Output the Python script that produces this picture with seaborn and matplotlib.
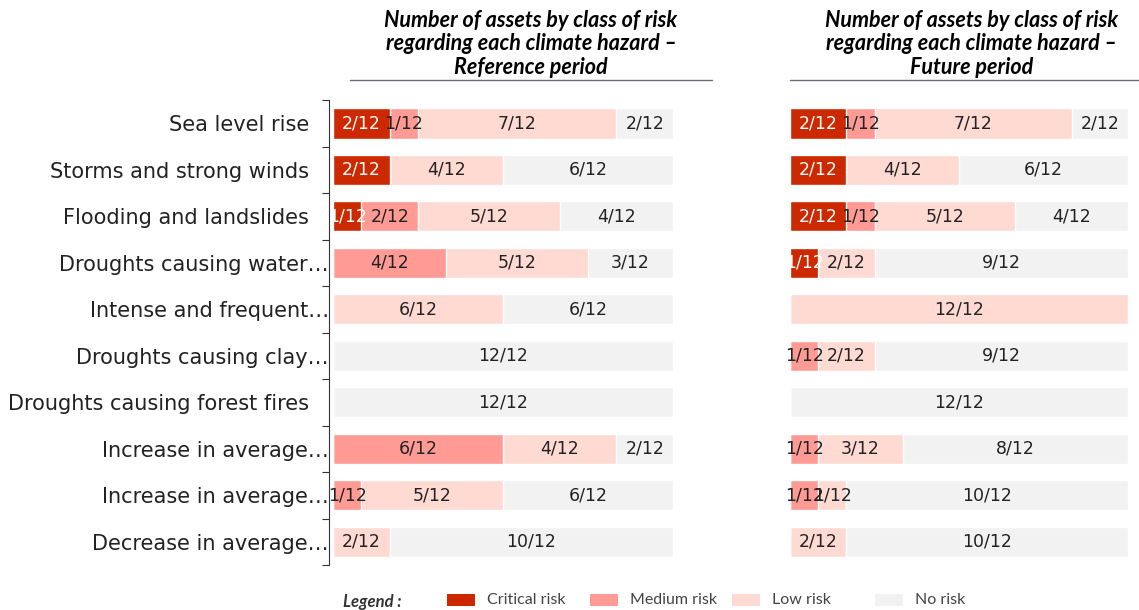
import numpy as np
import matplotlib.pyplot as plt
import seaborn as sns
from matplotlib.patches import Rectangle
from matplotlib.lines import Line2D

sns.set_theme(style="white")
plt.rcParams['font.family'] = ['DejaVu Sans']

# -------------------------------
# Data (number of assets out of 12)
# -------------------------------
hazards = ["Sea level rise", "Storms and strong winds", "Flooding and landslides",
           "Droughts causing water…", "Intense and frequent…", "Droughts causing clay…",
           "Droughts causing forest fires", "Increase in average…", "Increase in average…",
           "Decrease in average…"]
# duplicate labels would merge as categories, so keep an index for plotting
hazard_ids = [f"h{i}" for i in range(len(hazards))]

ref_critical = [2, 2, 1, 0, 0, 0, 0, 0, 0, 0]
ref_medium = [1, 0, 2, 4, 0, 0, 0, 6, 1, 0]
ref_low = [7, 4, 5, 5, 6, 0, 0, 4, 5, 2]
ref_none = [2, 6, 4, 3, 6, 12, 12, 2, 6, 10]

fut_critical = [2, 2, 2, 1, 0, 0, 0, 0, 0, 0]
fut_medium = [1, 0, 1, 0, 0, 1, 0, 1, 1, 0]
fut_low = [7, 4, 5, 2, 12, 2, 0, 3, 1, 2]
fut_none = [2, 6, 4, 9, 0, 9, 12, 8, 10, 10]

total = 12
risk_names = ["Critical risk", "Medium risk", "Low risk", "No risk"]
risk_colors = ["#CC2900", "#FF9A94", "#FFDAD3", "#F2F2F2"]
text_colors = ["white", "#222222", "#222222", "#222222"]


def stacked(ax, layers):
    # draw cumulative bars back to front so each layer shows as a segment
    cums = np.cumsum(np.array(layers), axis=0)
    for k in range(len(layers) - 1, -1, -1):
        sns.barplot(x=cums[k], y=hazard_ids, orient="h", order=hazard_ids,
                    color=risk_colors[k], saturation=1, width=0.65, ax=ax)
    for k, layer in enumerate(layers):
        for i, v in enumerate(layer):
            if v > 0:
                left = cums[k][i] - v
                ax.text(left + v / 2, i, f"{v}/{total}", ha="center", va="center",
                        fontsize=12.5, color=text_colors[k])
    ax.set_xlim(0, total)
    ax.set_ylim(len(hazards) - 0.5, -0.5)
    ax.set_xlabel("")
    ax.set_ylabel("")
    ax.set_xticks([])
    for s in ["top", "right", "bottom"]:
        ax.spines[s].set_visible(False)


fig = plt.figure(figsize=(11.39, 6.10), dpi=100)
ax1 = fig.add_axes([0.2924, 0.0738, 0.2985, 0.762])
ax2 = fig.add_axes([0.6936, 0.0738, 0.2968, 0.762])

stacked(ax1, [ref_critical, ref_medium, ref_low, ref_none])
stacked(ax2, [fut_critical, fut_medium, fut_low, fut_none])

# left axis: labels and boundary ticks (ellipsis hangs past the other labels)
shown = [h if h.endswith("…") else h + "   " for h in hazards]
ax1.set_yticks(range(len(hazards)))
ax1.set_yticklabels(shown)
ax1.set_yticks(np.arange(-0.5, len(hazards), 1), minor=True)
ax1.tick_params(axis="y", which="major", left=False, length=0, pad=0,
                labelsize=15, labelcolor="#222222")
ax1.tick_params(axis="y", which="minor", left=True, length=5, width=0.8,
                direction="out", color="#333333")
ax1.spines["left"].set_position(("outward", 3))
ax1.spines["left"].set_color("#333333")
ax1.spines["left"].set_linewidth(0.8)

ax2.set_yticks([])
ax2.spines["left"].set_visible(False)

# titles with underline
title_kw = dict(ha="center", va="center", fontsize=15.5, fontweight="bold",
                fontstyle="italic", color="black", linespacing=1.17,
                family=["Lato", "DejaVu Sans"])
fig.text(531 / 1139, 1 - 44 / 610,
         "Number of assets by class of risk\nregarding each climate hazard –\nReference period",
         **title_kw)
fig.text(972 / 1139, 1 - 44 / 610,
         "Number of assets by class of risk\nregarding each climate hazard –\nFuture period",
         **title_kw)
ly = 1 - 79.5 / 610
fig.add_artist(Line2D([350 / 1139, 712 / 1139], [ly, ly], color="#6b6e78", lw=1))
fig.add_artist(Line2D([790 / 1139, 1.0], [ly, ly], color="#6b6e78", lw=1))

# legend row
fig.text(343 / 1139, 1 - 602 / 610, "Legend :", fontsize=12, fontweight="bold",
         fontstyle="italic", color="#333333", va="center", family=["Lato", "DejaVu Sans"])
for k, name in enumerate(risk_names):
    x0 = (447 + k * 142.7) / 1139
    fig.add_artist(Rectangle((x0, 1 - 606 / 610), 28 / 1139, 12 / 610,
                             transform=fig.transFigure, facecolor=risk_colors[k],
                             edgecolor="none"))
    fig.text(x0 + 40 / 1139, 1 - 600 / 610, name, fontsize=11.5, color="#444444",
             va="center", family=["Lato", "DejaVu Sans"])

fig.savefig("out.png", dpi=100)
